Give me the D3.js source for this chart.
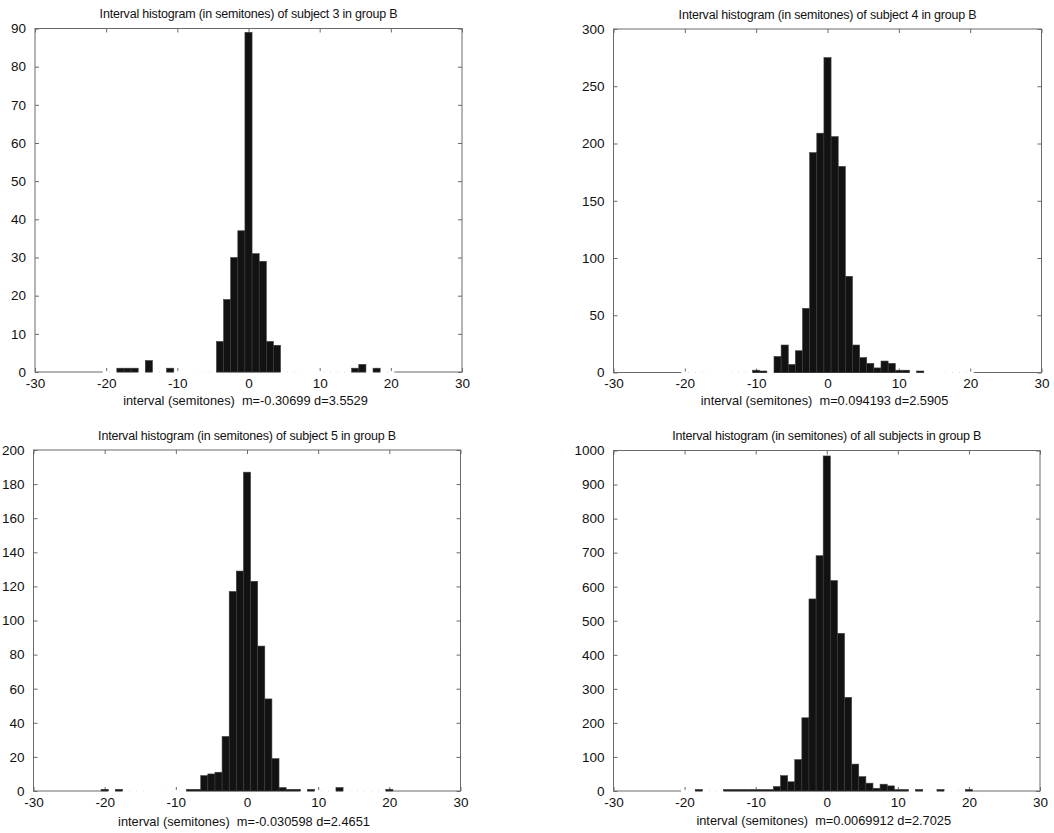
<!DOCTYPE html>
<html>
<head>
<meta charset="utf-8">
<script src="https://cdn.jsdelivr.net/npm/d3@7/dist/d3.min.js"></script>
<style>
  html, body { margin: 0; padding: 0; background: #fff; }
  svg { display: block; }
  text { font-family: "Liberation Sans", Arial, Helvetica, sans-serif; fill: #111; }
</style>
</head>
<body>
<svg id="chart" width="1054" height="833"></svg>
<script>
// ---- data ----
const bins = [-20,-19,-18,-17,-16,-15,-14,-13,-12,-11,-10,-9,-8,-7,-6,-5,-4,-3,-2,-1,0,
              1,2,3,4,5,6,7,8,9,10,11,12,13,14,15,16,17,18,19,20];

const countsSubject3 = [0,0,1,1,1,0,3,0,0,1,0,0,0,0,0,0,8,19,30,37,89,
                        31,29,8,7,0,0,0,0,0,0,0,0,0,0,1,2,0,1,0,0];
const countsSubject4 = [0,0,0,0,0,0,0,0,0,0,2,1,0,14,24,7,19,56,192,209,275,
                        206,180,84,24,13,8,4,10,8,2,2,0,1,0,0,0,0,0,0,0];
const countsSubject5 = [1,0,1,0,0,0,0,0,0,0,0,0,1,1,9,10,11,32,117,129,187,
                        123,85,54,19,2,1,1,0,1,0,0,0,2,0,0,0,0,0,0,1];
const countsAll      = [0,0,1,0,0,0,1,1,3,2,1,1,1,13,45,27,92,215,564,691,984,
                        618,463,275,79,42,23,8,20,15,2,2,0,1,0,0,1,0,0,0,2];

const xTicks = [-30,-20,-10,0,10,20,30];
const yTicks3 = [0,10,20,30,40,50,60,70,80,90];
const yTicks4 = [0,50,100,150,200,250,300];
const yTicks5 = [0,20,40,60,80,100,120,140,160,180,200];
const yTicksAll = [0,100,200,300,400,500,600,700,800,900,1000];

const titles = [
  "Interval histogram (in semitones) of subject 3 in group B",
  "Interval histogram (in semitones) of subject 4 in group B",
  "Interval histogram (in semitones) of subject 5 in group B",
  "Interval histogram (in semitones) of all subjects in group B"
];
const xLabels = [
  "interval (semitones)  m=-0.30699 d=3.5529",
  "interval (semitones)  m=0.094193 d=2.5905",
  "interval (semitones)  m=-0.030598 d=2.4651",
  "interval (semitones)  m=0.0069912 d=2.7025"
];

// ---- layout ----
const panels = [
  {counts: countsSubject3, yTicks: yTicks3, box: {l: 35,    r: 462,    t: 28.5, b: 372},   titleY: 18,  labelY: 405},
  {counts: countsSubject4, yTicks: yTicks4, box: {l: 613.5, r: 1041.5, t: 29,   b: 372.5}, titleY: 19,  labelY: 405},
  {counts: countsSubject5, yTicks: yTicks5, box: {l: 33.5,  r: 460.5,  t: 450,  b: 791},   titleY: 440, labelY: 826},
  {counts: countsAll,      yTicks: yTicksAll, box: {l: 613.5, r: 1040,  t: 450.5, b: 791},  titleY: 440, labelY: 825}
];

const svg = d3.select("#chart");
const frameColor = "#6a6a6a";
const tickLen = 4;
const fmt = d => String(d);   // plain hyphen minus, no thousands separator

panels.forEach((p, i) => {
  const B = p.box;
  const x = d3.scaleLinear().domain([-30, 30]).range([B.l, B.r]);
  const yMax = p.yTicks[p.yTicks.length - 1];
  const y = d3.scaleLinear().domain([0, yMax]).range([B.b, B.t]);
  const g = svg.append("g");

  // frame
  g.append("rect")
    .attr("x", B.l).attr("y", B.t)
    .attr("width", B.r - B.l).attr("height", B.b - B.t)
    .attr("fill", "none").attr("stroke", frameColor).attr("stroke-width", 1);

  // axes with inward ticks (bottom/left labelled, top/right unlabelled)
  const axB = g.append("g").attr("transform", `translate(0,${B.b})`)
    .call(d3.axisBottom(x).tickValues(xTicks).tickFormat(fmt).tickSizeInner(-tickLen).tickSizeOuter(0).tickPadding(2 + tickLen));
  const axT = g.append("g").attr("transform", `translate(0,${B.t})`)
    .call(d3.axisTop(x).tickValues(xTicks).tickSizeInner(-tickLen).tickSizeOuter(0).tickFormat(""));
  const axL = g.append("g").attr("transform", `translate(${B.l},0)`)
    .call(d3.axisLeft(y).tickValues(p.yTicks).tickFormat(fmt).tickSizeInner(-tickLen).tickSizeOuter(0).tickPadding(5 + tickLen));
  const axR = g.append("g").attr("transform", `translate(${B.r},0)`)
    .call(d3.axisRight(y).tickValues(p.yTicks).tickSizeInner(-tickLen).tickSizeOuter(0).tickFormat(""));
  [axB, axT, axL, axR].forEach(a => {
    a.select(".domain").remove();
    a.selectAll(".tick line").attr("stroke", frameColor).attr("stroke-width", 1);
    a.selectAll("text").attr("font-size", 13.5).attr("fill", "#111")
      .attr("font-family", '"Liberation Sans", Arial, sans-serif');
  });

  // zero-count bins erase the baseline (as in the reference)
  const data = bins.map((b, k) => ({b: b, v: p.counts[k]}));
  g.selectAll("line.gap").data(data.filter(d => d.v === 0)).enter()
    .append("line").attr("class", "gap")
    .attr("x1", d => x(d.b - 0.5)).attr("x2", d => x(d.b + 0.5))
    .attr("y1", B.b).attr("y2", B.b)
    .attr("stroke", "#fff").attr("stroke-width", 2);

  // bars
  g.selectAll("rect.bar").data(data.filter(d => d.v > 0)).enter()
    .append("rect").attr("class", "bar")
    .attr("x", d => x(d.b - 0.5))
    .attr("width", d => x(d.b + 0.5) - x(d.b - 0.5))
    .attr("y", d => Math.min(y(d.v), B.b - 1.5))
    .attr("height", d => Math.max(B.b - y(d.v), 1.5))
    .attr("fill", "#121212")
    .attr("stroke", "#3c3c3c").attr("stroke-width", 0.6);

  // title
  g.append("text")
    .attr("x", (B.l + B.r) / 2).attr("y", p.titleY)
    .attr("text-anchor", "middle").attr("font-size", 12.5)
    .attr("letter-spacing", -0.2)
    .text(titles[i]);

  // x label
  g.append("text")
    .attr("x", (B.l + B.r) / 2 - 3).attr("y", p.labelY)
    .attr("text-anchor", "middle").attr("font-size", 12.8)
    .style("white-space", "pre")
    .text(xLabels[i]);
});
</script>
</body>
</html>
